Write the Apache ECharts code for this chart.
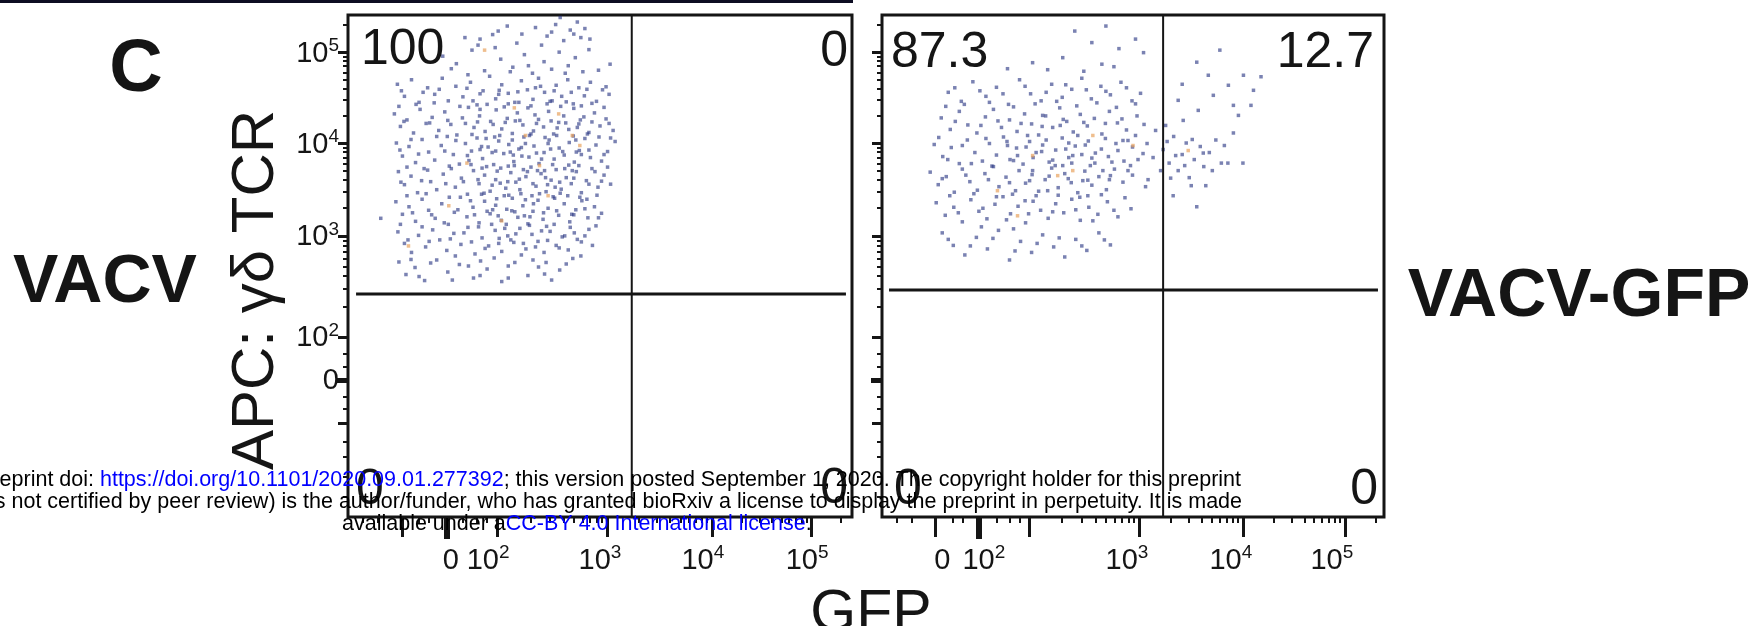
<!DOCTYPE html>
<html>
<head>
<meta charset="utf-8">
<title>VACV vs VACV-GFP</title>
<script src="https://cdn.jsdelivr.net/npm/echarts@6.0.0/dist/echarts.min.js"></script>
<style>
    html, body { margin: 0; padding: 0; background: #fff; }
    #chart { width: 1762px; height: 626px; }
</style>
</head>
<body>
<div id="chart"></div>
<script>
'use strict';

// events in display channels (0..1000 on both axes, biexponential scale)
const vacvEvents = [
    [232,955],[262,952],[298,968],[335,944],[372,975],[395,958],[412,981],[428,949],[441,970],[455,986],[462,955],[470,973],[384,940],
    [188,918],[215,903],[246,930],[271,889],[303,912],[327,896],[350,921],[366,884],[389,907],[404,892],[419,926],[437,899],[451,915],[466,887],[478,931],[520,902],
    [98,862],[112,838],[126,871],[141,826],[158,855],[172,842],[187,874],[199,829],[214,858],[228,837],[243,866],[256,821],[268,849],[281,878],[293,833],[305,861],[318,844],[331,826],[344,869],[356,851],[367,832],[378,874],[390,846],[401,828],[413,860],[424,838],[436,871],[447,823],[458,855],[469,839],[481,866],[493,828],[505,851],[518,842],
    [92,803],[104,778],[117,791],[130,765],[143,812],[155,784],[167,796],[180,770],[192,807],[204,782],[216,761],[227,795],[239,816],[250,776],[261,799],[272,768],[283,788],[294,811],[305,773],[316,794],[326,764],[336,805],[347,781],[357,815],[368,769],[378,792],[388,777],[398,808],[408,763],[418,786],[428,799],[438,772],[448,814],[458,783],[468,797],[478,766],[489,805],[500,779],[512,793],[526,770],
    [96,745],[108,719],[121,738],[134,706],[147,752],[160,727],[172,711],[185,740],[197,758],[209,722],[221,703],[233,744],[245,729],[256,755],[267,714],[278,737],[289,702],[299,749],[309,724],[319,742],[329,708],[339,733],[349,757],[359,717],[369,739],[379,704],[389,726],[399,751],[409,713],[419,735],[429,721],[439,746],[449,707],[459,730],[470,754],[481,716],[492,741],[503,709],[515,728],[530,748],[286,726],[352,744],
    [100,688],[112,662],[125,679],[138,646],[151,694],[164,668],[176,652],[189,683],[201,699],[213,657],[225,675],[237,643],[249,690],[260,664],[271,681],[282,649],[293,672],[303,695],[313,655],[323,686],[333,667],[343,644],[353,678],[363,697],[373,659],[383,684],[393,648],[403,671],[413,692],[423,653],[433,676],[443,664],[453,688],[463,646],[473,670],[484,694],[496,657],[508,681],[521,663],[330,700],[396,662],[310,640],
    [95,628],[108,603],[121,618],[134,589],[147,633],[160,611],[173,595],[186,624],[199,583],[211,607],[223,637],[236,598],[248,617],[260,586],[271,629],[282,604],[293,621],[304,591],[315,613],[326,635],[337,597],[347,620],[357,584],[367,609],[377,631],[387,593],[397,615],[407,638],[418,601],[429,624],[440,588],[452,612],[464,630],[476,596],[489,618],[503,605],[65,595],[365,640],
    [99,568],[112,545],[126,527],[140,561],[154,538],[168,572],[182,552],[196,531],[210,565],[224,543],[238,577],[252,524],[266,556],[279,540],[292,571],[305,529],[317,560],[329,547],[341,575],[353,534],[365,563],[377,549],[389,527],[401,569],[413,541],[425,558],[437,532],[449,566],[463,548],[478,573],
    [101,508],[115,483],[133,497],[152,471],[176,512],[198,488],[221,503],[249,476],[276,494],[305,469],[331,507],[357,481],[378,498],[404,472],[420,492],[446,515],
    [262,812],[291,757],[318,823],[344,736],[371,801],[397,744],[422,818],[447,759],[275,698],[302,665],[328,721],[356,688],[384,713],[411,657],[438,701],[463,722],
    [287,612],[314,583],[341,652],[368,624],[394,579],[421,645],[448,602],[474,633],[265,738],[332,789],[405,829],[455,776],[299,842],[382,858],[350,600],[430,560],
    [300,555],[270,645],[360,760],[415,775],[445,690],[325,610],[390,690],[240,710],
    [205,893],[238,881],[322,887],[358,899],[431,884],[497,890],
    [106,849],[149,846],[181,852],[236,854],[262,843],[300,850],[337,847],[372,855],[409,849],[443,846],[474,852],[512,857],
    [101,818],[135,822],[171,825],[222,818],[248,829],[276,822],[310,817],[339,826],[363,819],[395,823],[433,827],[463,819],[484,824],[508,816],
    [111,788],[162,785],[198,790],[233,784],[257,787],[288,782],[312,786],[341,790],[374,784],[403,789],[432,785],[461,791],[484,787],[518,784],
    [125,752],[176,758],[214,750],[246,762],[274,754],[301,760],[326,751],[363,763],[391,756],[414,760],[452,751],[475,763],[498,757],[521,755],
    [103,731],[140,723],[192,729],[237,720],[262,732],[293,729],[322,727],[345,719],[374,725],[402,733],[426,728],[453,727],[478,731],[508,722],
    [117,697],[158,691],[205,694],[244,702],[266,695],[296,689],[318,699],[348,692],[376,690],[406,702],[430,694],[458,700],[490,688],[515,697],
    [105,667],[146,670],[194,664],[229,668],[258,672],[286,661],[317,668],[340,673],[367,664],[392,676],[420,667],[448,675],[478,663],[503,669],
    [117,640],[155,644],[201,637],[243,630],[265,643],[295,634],[319,641],[352,632],[380,644],[410,635],[436,640],[460,637],[494,641],
    [128,606],[166,602],[218,612],[251,602],[276,609],[298,600],[331,608],[361,598],[388,606],[414,610],[444,603],[470,614],[497,596],
    [104,583],[147,578],[191,586],[230,566],[259,578],[285,583],[311,575],[333,564],[360,581],[384,570],[409,583],[441,577],[470,560],[492,580],
    [119,552],[161,549],[203,554],[245,548],[272,535],[299,545],[323,552],[348,545],[372,538],[396,551],[419,536],[455,553],[485,541],
    [125,513],[164,506],[213,520],[239,500],[263,510],[290,516],[318,500],[344,522],[367,512],[393,507],[433,504],[462,520],
    [141,479],[207,472],[262,481],[318,476],[390,484],
    [287,961],[316,978],[345,962],[404,966],[421,995],[448,962],[480,952],[258,940],[292,935]
];
const vacvOrange = [
    [352,760],[418,803],[236,705],[397,640],[305,590],[460,740],[330,815],[120,540],[380,700],[271,930],[445,760],[200,620]
];

const gfpEvents = [
    [384,968],[418,945],[446,978],[472,933],[505,952],[360,915],[300,905],[250,893],[438,902],[521,925],
    [132,846],[158,828],[181,867],[207,838],[228,856],[252,822],[274,871],[296,843],[317,829],[338,862],[359,836],[378,852],[398,874],[417,833],[436,858],[455,841],[476,866],[498,829],
    [118,795],[136,772],[154,808],[171,781],[189,765],[206,797],[222,812],[238,776],[254,791],[269,768],[284,803],[298,783],[312,761],[326,799],[340,776],[354,815],[368,788],[381,767],[395,802],[409,779],[423,794],[438,763],[453,808],[469,785],[487,771],[508,799],
    [104,742],[121,718],[138,736],[154,704],[170,751],[185,726],[200,709],[214,744],[228,721],[242,757],[255,712],[268,735],[281,703],[294,748],[307,726],[320,741],[333,707],[346,731],[359,755],[372,716],[385,739],[398,722],[411,749],[424,705],[437,733],[451,718],[466,744],[482,709],[499,737],[520,724],
    [96,687],[112,662],[128,678],[144,647],[160,693],[175,668],[190,651],[205,684],[219,699],[233,658],[247,677],[260,643],[273,690],[286,665],[299,682],[312,649],[325,672],[338,695],[351,656],[364,684],[377,666],[390,646],[404,689],[418,661],[432,678],[447,652],[463,693],[480,667],[499,681],[525,658],
    [108,626],[126,601],[143,617],[160,588],[177,632],[193,609],[209,594],[225,623],[241,638],[256,604],[271,619],[286,586],[301,629],[316,611],[331,595],[346,624],[362,606],[378,633],[395,591],[412,617],[430,603],[449,628],[470,598],[496,614],
    [120,566],[142,541],[165,522],[188,557],[210,534],[232,571],[254,512],[276,549],[298,527],[320,562],[342,538],[364,518],[386,553],[408,531],[432,566],[455,542],[262,574],[198,578],
    [290,760],[318,728],[345,700],[372,745],[400,670],[425,725],[300,690],[330,650],[360,700],[390,760],[415,700],[440,690],[270,720],[250,740],[355,780],[320,800],[380,720],[470,730],[495,700],[505,760],[480,750],[455,680],[285,630],[410,640],
    [560,732],[572,705],[581,758],[590,690],[598,722],[606,745],[612,676],[622,712],[634,738],[641,698],[652,726],[665,751],[676,705],[689,705],[719,705],[627,618],
    [645,660],[580,640],[600,790],[630,810],[660,840],[690,860],[720,880],[755,877],[673,930],[627,906],[700,820],[740,850],[590,830],[565,780],[545,770],[555,690],
    [330,891],[402,888],[462,897],
    [145,855],[195,849],[241,843],[285,858],[327,846],[366,861],[407,851],[446,848],[487,855],[515,844],
    [127,818],[164,822],[214,826],[262,817],[305,823],[348,828],[388,819],[428,825],[467,816],[505,823],
    [146,788],[197,780],[231,789],[277,784],[319,778],[361,792],[402,786],[445,784],[478,793],[522,782],
    [113,756],[160,740],[207,754],[249,748],[287,737],[327,751],[366,733],[405,741],[445,754],[490,750],[528,744],[540,716],
    [131,712],[178,704],[222,698],[262,710],[301,716],[340,711],[378,705],[418,715],[458,707],[510,712],
    [120,674],[167,681],[212,672],[254,666],[294,670],[333,679],[371,674],[410,671],[453,672],[490,690],[530,672],
    [135,640],[183,644],[228,638],[266,650],[307,640],[351,641],[394,637],[437,642],[484,636],
    [152,606],[201,615],[248,592],[292,604],[340,608],[386,612],[420,590],[462,611],
    [132,553],[176,540],[221,555],[265,530],[309,545],[353,556],[398,540],[443,552],
    [568,748],[585,720],[603,700],[618,752],[640,725],[658,690],[682,740],[700,765],[710,800],[735,820],[650,880],[598,862],[575,675],[616,660]
];
const gfpOrange = [
    [300,720],[350,680],[270,600],[420,760],[230,650],[500,740],[380,690],[610,730]
];

// quadrant gates (channels): [VACV, VACV-GFP]
const gateX = [563, 560];
const gateY = [444, 452];

// quadrant frequencies: top-left, top-right, bottom-left, bottom-right
const quadVacv = ['100', '0', '0', '0'];
const quadGfp = ['87.3', '12.7', '0', '0'];

// axis ticks (channels) and their labels
const tickLabels = ['0', '10^2', '10^3', '10^4', '10^5'];
const xMajorVacv = [107, 196, 296, 514, 722, 919];
const xLabelAtVacv = [204, 278, 500, 704, 911];
const xMajorGfp = [106, 193, 293, 512, 719, 922];
const xLabelAtGfp = [120, 203, 488, 695, 896];
const yMajor = [187, 273, 359, 560, 745, 926];
const yLabelAt = [273, 359, 560, 745, 926];

const FONT = '"Liberation Sans", Arial, Helvetica, sans-serif';
const INK = '#151515';

function logMinors(a, b) {
    const out = [];
    for (let k = 2; k <= 9; k++) {
        out.push(a + (b - a) * Math.log10(k));
    }
    return out;
}

function minorsFrom(major, extra) {
    // decades are the last four major ticks
    const d = major.slice(2);
    let out = [];
    for (let i = 0; i < d.length - 1; i++) {
        out = out.concat(logMinors(d[i], d[i + 1]));
    }
    const last = d[d.length - 1];
    const span = last - d[d.length - 2];
    out.push(last + span * Math.log10(2), last + span * Math.log10(3));
    return out.concat(extra).filter(v => v > 0 && v < 1000);
}

function richLabel(text) {
    if (text.indexOf('^') < 0) {
        return '{b|' + text + '}';
    }
    const parts = text.split('^');
    return '{b|' + parts[0] + '}{s|' + parts[1] + '}';
}

const labelRich = {
    b: { fontSize: 29, fontFamily: FONT, color: INK, lineHeight: 32, verticalAlign: 'bottom' },
    s: { fontSize: 19, fontFamily: FONT, color: INK, lineHeight: 20, verticalAlign: 'top' }
};

function axis(dim, gridIndex, ticks, len, width, labelsAt) {
    const a = {
        type: 'value',
        gridIndex,
        min: 0,
        max: 1000,
        position: dim === 'x' ? 'bottom' : 'left',
        splitLine: { show: false },
        axisLine: { show: false },
        axisTick: {
            show: true,
            inside: false,
            length: len,
            customValues: ticks,
            lineStyle: { color: INK, width }
        },
        axisLabel: { show: false }
    };
    if (labelsAt) {
        a.axisLabel = {
            show: true,
            customValues: labelsAt,
            margin: dim === 'x' ? 26 : 9,
            rich: labelRich,
            formatter: v => {
                const i = labelsAt.indexOf(v);
                return i < 0 ? '' : richLabel(tickLabels[i]);
            }
        };
    }
    return a;
}

const xMinorExtra = [30, 60, 140, 160, 228, 255, 275];
const yMinorExtra = [40, 80, 120, 150, 215, 239, 300, 325];

const grids = [
    { left: 348, top: 15, width: 504, height: 502 },
    { left: 882, top: 15, width: 502, height: 502 }
].map(g => Object.assign(g, { show: true, borderColor: INK, borderWidth: 3, backgroundColor: '#fff' }));

const xAxes = [
    axis('x', 0, xMajorVacv, 20, 3, xLabelAtVacv),
    axis('x', 0, minorsFrom(xMajorVacv, xMinorExtra), 6, 2),
    axis('x', 0, [xMajorVacv[1]], 22, 6),
    axis('x', 1, xMajorGfp, 20, 3, xLabelAtGfp),
    axis('x', 1, minorsFrom(xMajorGfp, xMinorExtra), 6, 2),
    axis('x', 1, [xMajorGfp[1]], 22, 6)
];
const yAxes = [
    axis('y', 0, yMajor, 10, 3, yLabelAt),
    axis('y', 0, minorsFrom(yMajor, yMinorExtra), 5, 2),
    axis('y', 0, [yMajor[1]], 11, 5),
    axis('y', 1, yMajor, 10, 3),
    axis('y', 1, minorsFrom(yMajor, yMinorExtra), 5, 2),
    axis('y', 1, [yMajor[1]], 11, 5)
];

function dots(data, axisIndex, color) {
    return {
        type: 'scatter',
        xAxisIndex: axisIndex,
        yAxisIndex: axisIndex,
        data,
        symbol: 'rect',
        symbolSize: 3.5,
        itemStyle: { color },
        silent: true,
        z: 2
    };
}

function gate(data, axisIndex, width) {
    return {
        type: 'line',
        xAxisIndex: axisIndex,
        yAxisIndex: axisIndex,
        data,
        symbol: 'none',
        lineStyle: { color: INK, width },
        silent: true,
        z: 3
    };
}

const series = [
    dots(vacvEvents, 0, 'rgba(42,55,132,0.78)'),
    dots(vacvOrange, 0, 'rgba(232,160,90,0.85)'),
    gate([[gateX[0], 0], [gateX[0], 1000]], 0, 2),
    gate([[16, gateY[0]], [988, gateY[0]]], 0, 3),
    dots(gfpEvents, 3, 'rgba(42,55,132,0.78)'),
    dots(gfpOrange, 3, 'rgba(232,160,90,0.85)'),
    gate([[gateX[1], 0], [gateX[1], 1000]], 3, 2),
    gate([[14, gateY[1]], [988, gateY[1]]], 3, 3)
];

function text(x, y, str, font, align, extra) {
    return Object.assign({
        type: 'text',
        x,
        y,
        z: 50,
        style: {
            text: str,
            font,
            fill: INK,
            textAlign: align,
            textVerticalAlign: 'middle',
            align,
            verticalAlign: 'middle'
        }
    }, extra || {});
}

const quadFont = '50px ' + FONT;
const noteFont = '21.5px ' + FONT;
const noteRich = {
    k: { fill: '#000', color: '#000', font: noteFont },
    u: { fill: '#0000ff', color: '#0000ff', font: noteFont }
};

function note(x, y, str, align) {
    return {
        type: 'text',
        x,
        y,
        z: 100,
        style: {
            text: str,
            font: noteFont,
            fill: '#000',
            rich: noteRich,
            textAlign: align,
            textVerticalAlign: 'middle',
            align,
            verticalAlign: 'middle'
        }
    };
}

const graphic = [
    { type: 'rect', shape: { x: 0, y: 0, width: 853, height: 3 }, style: { fill: '#0d0d22' }, z: 50 },
    text(136, 71, 'C', 'bold 74px ' + FONT, 'center'),
    text(105, 283, 'VACV', 'bold 68px ' + FONT, 'center'),
    text(1579, 297, 'VACV-GFP', 'bold 68px ' + FONT, 'center'),
    text(256, 290, 'APC: γδ TCR', '60px ' + FONT, 'center', { rotation: Math.PI / 2 }),
    text(871, 615, 'GFP', '59px ' + FONT, 'center'),

    text(361, 50, quadVacv[0], quadFont, 'left'),
    text(848, 52, quadVacv[1], quadFont, 'right'),
    text(356, 490, quadVacv[2], quadFont, 'left'),
    text(848, 489, quadVacv[3], quadFont, 'right'),
    text(891, 53, quadGfp[0], quadFont, 'left'),
    text(1374, 53, quadGfp[1], quadFont, 'right'),
    text(894, 490, quadGfp[2], quadFont, 'left'),
    text(1378, 490, quadGfp[3], quadFont, 'right'),

    note(1241, 480, '{k|bioRxiv preprint doi: }{u|https://doi.org/10.1101/2020.09.01.277392}{k|; this version posted September 1, 2020. The copyright holder for this preprint}', 'right'),
    note(1242, 502, '{k|(which was not certified by peer review) is the author/funder, who has granted bioRxiv a license to display the preprint in perpetuity. It is made}', 'right'),
    note(342, 524, '{k|available under a}{u|CC-BY 4.0 International license}{k|.}', 'left')
];

const chart = echarts.init(document.getElementById('chart'), null, { renderer: 'canvas' });
chart.setOption({
    animation: false,
    backgroundColor: '#fff',
    grid: grids,
    xAxis: xAxes,
    yAxis: yAxes,
    series,
    graphic
});
window.addEventListener('resize', () => {
    chart.resize();
});
</script>
</body>
</html>
